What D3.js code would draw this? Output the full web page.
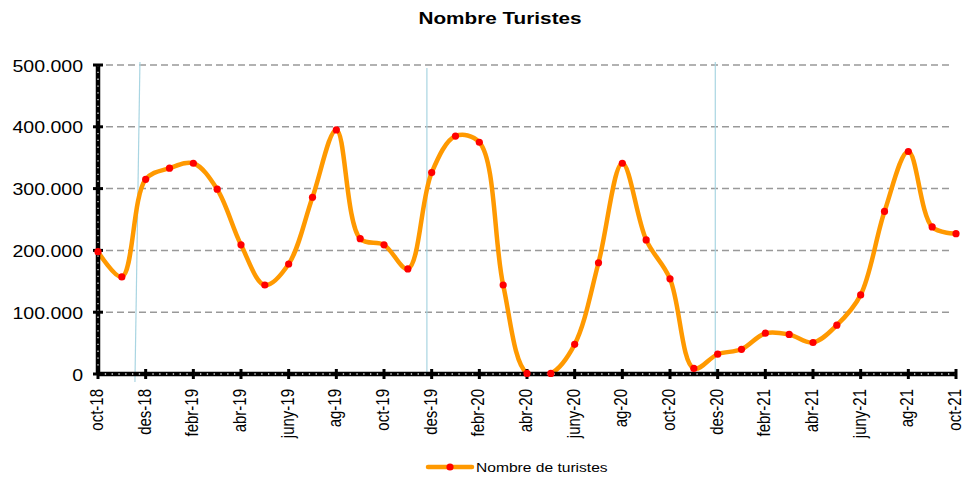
<!DOCTYPE html>
<html>
<head>
<meta charset="utf-8">
<script src="https://cdn.jsdelivr.net/npm/d3@7"></script>
<style>
  body { margin: 0; background: #fff; }
  text { font-family: Arial, "Liberation Sans", sans-serif; fill: #000; }
</style>
</head>
<body>
<div class="container"></div>
<script>
// chart size
const width = 970;
const height = 479;
const margin = { top: 65, right: 14, bottom: 105, left: 98 };

// data (one value per month, oct-18 .. oct-21)
const months = [
  "oct-18", "nov-18", "des-18", "gen-19", "febr-19", "març-19", "abr-19", "maig-19", "juny-19", "jul-19", "ag-19", "set-19",
  "oct-19", "nov-19", "des-19", "gen-20", "febr-20", "març-20", "abr-20", "maig-20", "juny-20", "jul-20", "ag-20", "set-20",
  "oct-20", "nov-20", "des-20", "gen-21", "febr-21", "març-21", "abr-21", "maig-21", "juny-21", "jul-21", "ag-21", "set-21",
  "oct-21"
];
const tourists = [
  198000, 157000, 315000, 333000, 341000, 299000, 209000, 144000, 178000, 286000, 395000, 219000,
  209000, 170000, 326000, 385000, 375000, 144000, 1000, 1000, 48000, 180000, 341000, 217000,
  154000, 9000, 32000, 40000, 66000, 64000, 51000, 79000, 128000, 263000, 360000, 238000,
  227000
];
const yTicks = [0, 100000, 200000, 300000, 400000, 500000];
const seriesName = "Nombre de turistes";
const chartTitle = "Nombre Turistes";
// thin light-blue marker lines (month index at top / bottom)
const markerTop = [1.76, 13.8, 25.9];
const markerBottom = [1.55, 13.8, 25.9];

const svg = d3.select(".container")
  .append("svg")
  .attr("width", width)
  .attr("height", height);

const x = d3.scaleLinear()
  .domain([0, months.length - 1])
  .range([margin.left, width - margin.right]);

const y = d3.scaleLinear()
  .domain([0, 500000])
  .range([height - margin.bottom, margin.top]);

const locale = d3.formatLocale({ decimal: ",", thousands: ".", grouping: [3], currency: ["", ""] });
const fmt = locale.format(",d");

// clip the line at the x axis like the original does
svg.append("clipPath")
  .attr("id", "plotClip")
  .append("rect")
  .attr("x", 0)
  .attr("y", 0)
  .attr("width", width)
  .attr("height", y(0) + 1);

// title
svg.append("text")
  .attr("transform", `translate(500, 24) scale(1.22,1)`)
  .attr("text-anchor", "middle")
  .style("font-size", "17px")
  .style("font-weight", "bold")
  .text(chartTitle);

// dashed gridlines
svg.append("g")
  .selectAll("line")
  .data(yTicks.filter(d => d > 0))
  .enter()
  .append("line")
  .attr("x1", margin.left + 8)
  .attr("x2", width - margin.right - 4)
  .attr("y1", d => y(d))
  .attr("y2", d => y(d))
  .attr("stroke", "#999")
  .attr("stroke-width", 1.5)
  .attr("stroke-dasharray", "7,4");

// light blue marker lines
svg.append("g")
  .selectAll("line")
  .data(markerTop)
  .enter()
  .append("line")
  .attr("x1", d => x(d))
  .attr("x2", (d, i) => x(markerBottom[i]))
  .attr("y1", (d, i) => i == 1 ? y(495000) : y(505000))
  .attr("y2", (d, i) => i == 0 ? y(0) + 8 : y(0))
  .attr("stroke", "#a9d5e2")
  .attr("stroke-width", 1.2);

// y axis
const yAxis = svg.append("g")
  .attr("transform", `translate(${margin.left},0)`)
  .call(d3.axisLeft(y).tickValues(yTicks).tickFormat(fmt).tickSize(0).tickPadding(10));
yAxis.select(".domain").remove();
yAxis.selectAll("text")
  .style("font-size", "17px")
  .attr("transform", "scale(1.15,1)")
  .attr("x", -13)
  .attr("dy", "0.36em");

// x axis labels (every second month)
const labelIdx = d3.range(0, months.length, 2);
svg.append("g")
  .selectAll("text")
  .data(labelIdx)
  .enter()
  .append("text")
  .attr("transform", d => `translate(${x(d) + 5}, ${y(0) + 15}) scale(1.2,1) rotate(-90)`)
  .attr("text-anchor", "end")
  .style("font-size", "15px")
  .text(d => months[d]);

// smooth line
const line = d3.line()
  .x((d, i) => x(i))
  .y(d => y(d))
  .curve(d3.curveCatmullRom.alpha(0.5));

svg.append("path")
  .datum(tourists)
  .attr("d", line)
  .attr("clip-path", "url(#plotClip)")
  .attr("fill", "none")
  .attr("stroke", "#ff9900")
  .attr("stroke-width", 4.5)
  .attr("stroke-linejoin", "round");

// axis lines: thick black with white dots
function axisLine(x1, y1, x2, y2) {
  svg.append("line")
    .attr("x1", x1).attr("y1", y1).attr("x2", x2).attr("y2", y2)
    .attr("stroke", "#000").attr("stroke-width", 4.5);
  svg.append("line")
    .attr("x1", x1).attr("y1", y1).attr("x2", x2).attr("y2", y2)
    .attr("stroke", "#ddd").attr("stroke-width", 1.3)
    .attr("stroke-dasharray", "1.3,5.5");
}
axisLine(x(0), y(500000), x(0), y(0));
axisLine(x(0), y(0), x(months.length - 1), y(0));

// tick marks
svg.append("g")
  .selectAll("line")
  .data(yTicks)
  .enter()
  .append("line")
  .attr("x1", x(0) - 5)
  .attr("x2", x(0) + 5)
  .attr("y1", d => y(d))
  .attr("y2", d => y(d))
  .attr("stroke", "#000")
  .attr("stroke-width", 3);

svg.append("g")
  .selectAll("line")
  .data(labelIdx)
  .enter()
  .append("line")
  .attr("x1", d => x(d))
  .attr("x2", d => x(d))
  .attr("y1", y(0) - 5)
  .attr("y2", y(0) + 5)
  .attr("stroke", "#000")
  .attr("stroke-width", 3);

// red markers
svg.append("g")
  .selectAll("circle")
  .data(tourists)
  .enter()
  .append("circle")
  .attr("cx", (d, i) => x(i))
  .attr("cy", d => y(d))
  .attr("r", 3.6)
  .attr("fill", "#ff0000");

// legend
const legend = svg.append("g").attr("transform", "translate(428, 467)");
legend.append("line")
  .attr("x1", 0).attr("x2", 44)
  .attr("stroke", "#ff9900")
  .attr("stroke-width", 4.5)
  .attr("stroke-linecap", "round");
legend.append("circle")
  .attr("cx", 22)
  .attr("r", 3.6)
  .attr("fill", "#ff0000");
legend.append("text")
  .attr("transform", "translate(48, 5) scale(1.2,1)")
  .style("font-size", "13px")
  .text(seriesName);
</script>
</body>
</html>
